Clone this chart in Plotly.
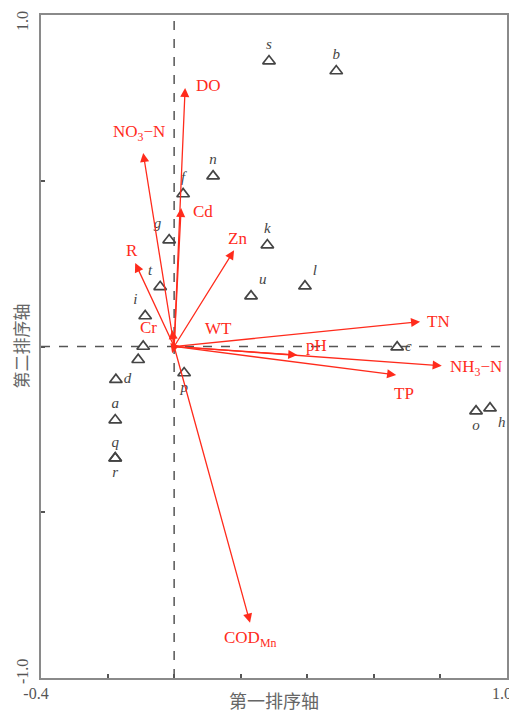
import plotly.graph_objects as go

# Environmental factor vectors (tip coordinates on axis 1 / axis 2)
env_names = ["DO", "NO<sub>3</sub>−N", "Cd", "Zn", "R", "Cr", "WT",
             "TN", "pH", "NH<sub>3</sub>−N", "TP", "COD<sub>Mn</sub>"]
env_x = [0.033, -0.093, 0.021, 0.180, -0.117, -0.006, -0.006,
         0.739, 0.370, 0.804, 0.667, 0.228]
env_y = [0.780, 0.584, 0.418, 0.290, 0.252, 0.050, -0.020,
         0.075, -0.026, -0.058, -0.086, -0.833]

# Sampling sites
site_names = ["s", "b", "n", "f", "g", "k", "t", "u", "l", "i", "e", "j",
              "d", "p", "a", "q", "r", "c", "o", "h"]
site_x = [0.285, 0.487, 0.117, 0.027, -0.015, 0.280, -0.042, 0.231, 0.393, -0.087,
          -0.093, -0.108, -0.175, 0.030, -0.177, -0.177, -0.177, 0.670, 0.907, 0.949]
site_y = [0.861, 0.831, 0.514, 0.460, 0.321, 0.306, 0.180, 0.152, 0.182, 0.092,
          0.000, -0.040, -0.100, -0.080, -0.222, -0.337, -0.337, -0.002, -0.195, -0.186]
site_shown = [True] * 10 + [False, False] + [True] * 8

# ticks
x_tickvals = [-0.4, -0.2, 0, 0.2, 0.4, 0.6, 0.8, 1.0]
x_ticktext = ["-0.4", "", "", "", "", "", "", "1.0"]
y_tickvals = [-1.0, -0.5, 0, 0.5, 1.0]
y_ticktext = ["-1.0", "", "", "", "1.0"]

# label placement (pixel offsets from the vector tip)
env_offset = {
    "DO": (23, 2), "NO<sub>3</sub>−N": (-4, 20), "Cd": (22, -4), "Zn": (3, 12),
    "R": (-3, 12), "Cr": (-24, 2), "WT": (46, 25), "TN": (18, 0), "pH": (19, 10),
    "NH<sub>3</sub>−N": (34, -2), "TP": (8, -18), "COD<sub>Mn</sub>": (0, -16),
}
site_pos = ["top center", "top center", "top center", "top center", "top left",
            "top center", "top left", "top right", "top right", "top left",
            "top center", "top center", "middle right", "bottom center",
            "top center", "top center", "bottom center", "middle right",
            "bottom center", "bottom right"]

RED = "#ff2b1c"
GREY = "#444444"
SERIF = "Liberation Serif, Times New Roman, serif"
CJK = "Noto Sans CJK SC"
TICKFONT = dict(family=SERIF, size=16, color="#555555")

fig = go.Figure()

# zero lines
fig.add_shape(type="line", x0=0, x1=0, y0=-1, y1=1, xref="x", yref="y",
              line=dict(color="#555555", width=1.5, dash="dash"), layer="below")
fig.add_shape(type="line", x0=-0.4, x1=1.0, y0=0, y1=0, xref="x", yref="y",
              line=dict(color="#555555", width=1.5, dash="dash"), layer="below")

fig.add_trace(go.Scatter(
    x=site_x, y=site_y, mode="markers+text",
    text=[n if s else "" for n, s in zip(site_names, site_shown)],
    textposition=site_pos,
    textfont=dict(family=SERIF, size=15, color=GREY, style="italic"),
    marker=dict(symbol="triangle-up-open", size=11, color=GREY,
                line=dict(width=1.7, color=GREY)),
    hovertext=site_names, hoverinfo="text", showlegend=False, cliponaxis=False,
))

for name, x, y in zip(env_names, env_x, env_y):
    fig.add_annotation(x=x, y=y, ax=0, ay=0, xref="x", yref="y", axref="x", ayref="y",
                       text="", showarrow=True, arrowhead=2, arrowsize=1.4,
                       arrowwidth=1.3, arrowcolor=RED, standoff=0)
    dx, dy = env_offset[name]
    fig.add_annotation(x=x, y=y, xref="x", yref="y", text=name, showarrow=False,
                       xshift=dx, yshift=dy,
                       font=dict(family=SERIF, size=17, color=RED))

# y tick labels sit inside the span of the axis, rotated
for v, t in zip(y_tickvals, y_ticktext):
    if t:
        fig.add_annotation(x=0, y=v, xref="paper", yref="y", text=t, showarrow=False,
                           textangle=-90, xanchor="center", yanchor="middle",
                           xshift=-19, yshift=-6 if v > 0 else 6, font=TICKFONT)

# axis titles placed by hand
fig.add_annotation(x=0.5, y=0, xref="paper", yref="paper", yanchor="middle",
                   yshift=-22, text="第一排序轴", showarrow=False,
                   font=dict(family=CJK, size=18, color="#666666"))
fig.add_annotation(x=0, y=0.5, xref="paper", yref="paper", xanchor="center",
                   yanchor="middle", xshift=-21, textangle=-90, text="第二排序轴",
                   showarrow=False, font=dict(family=CJK, size=17, color="#666666"))

axis_common = dict(showgrid=False, zeroline=False, showline=True, mirror=True,
                   linecolor="#8a8a8a", linewidth=2, ticks="inside", ticklen=4,
                   tickcolor="#555555", tickwidth=1.5, automargin=False,
                   tickfont=TICKFONT)

fig.update_xaxes(range=[-0.4, 1.0], tickvals=x_tickvals, ticktext=x_ticktext,
                 ticklabelstandoff=0, ticklabelshift=-5, **axis_common)
fig.update_yaxes(range=[-1.0, 1.0], tickvals=y_tickvals, showticklabels=False,
                 **axis_common)

# page body adds 8px margin; plot area lands at page x 41-507, y 15-678
fig.update_layout(
    width=509, height=706,
    margin=dict(l=33, r=10, t=7, b=36),
    plot_bgcolor="white", paper_bgcolor="white",
    showlegend=False,
)

fig.write_html("out.html")
